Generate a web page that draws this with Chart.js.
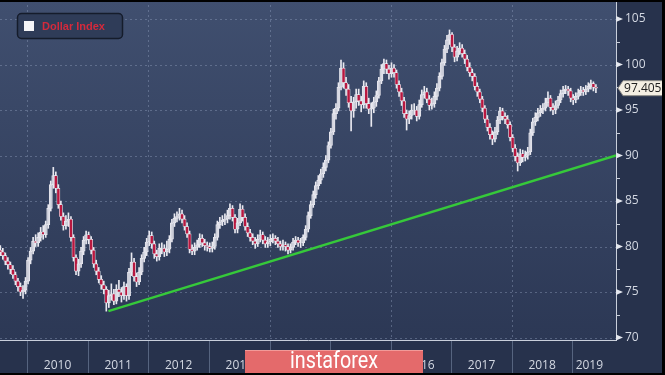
<!DOCTYPE html>
<html>
<head>
<meta charset="utf-8">
<script src="https://cdn.jsdelivr.net/npm/chart.js@4.4.1/dist/chart.umd.min.js"></script>
<style>
html, body { margin: 0; padding: 0; background: #000; }
#wrap { width: 665px; height: 375px; }
</style>
</head>
<body>
<div id="wrap"><canvas id="dxy" width="665" height="375"></canvas></div>
<script>
// dollar index bars, one every half month starting mid 2009
const firstBar = 2009.555;
const barsPerYear = 24;
const firstOpen = 79.6;
const closes = [
  79.4,79.0,78.4,78.0,77.5,76.9,76.2,75.6,75.0,75.2,
  76.2,78.5,79.5,80.6,80.4,81.0,81.6,81.3,82.4,84.2,
  86.8,87.8,86.4,84.6,83.3,82.3,82.8,83.0,81.0,78.8,
  77.3,78.1,79.5,80.7,81.3,80.8,79.6,78.1,77.3,76.4,
  75.8,75.3,73.8,74.6,74.8,74.0,75.3,75.0,74.6,75.6,
  74.6,77.2,78.3,76.7,76.1,77.2,78.7,79.4,80.5,81.2,
  80.3,79.2,78.9,79.8,79.8,79.4,79.7,80.8,82.6,83.1,
  83.3,83.6,83.0,82.2,81.4,79.7,79.5,79.9,80.2,80.9,
  80.4,80.1,80.0,79.8,80.0,81.0,82.4,82.7,82.9,83.0,
  83.4,84.2,83.2,81.9,82.6,84.1,83.2,82.2,81.5,81.0,
  80.6,80.3,80.8,81.3,80.7,80.3,80.5,80.8,80.9,80.6,
  80.3,80.0,80.2,80.0,79.6,79.9,80.5,80.7,80.4,80.4,
  81.0,81.9,83.4,84.6,85.7,86.7,87.3,88.0,88.7,89.5,
  91.1,92.6,94.6,95.2,97.5,99.6,98.0,97.3,95.8,94.9,
  95.9,96.7,96.0,95.6,97.6,95.7,95.1,95.2,95.9,96.6,
  98.2,99.5,100.1,99.5,99.0,99.6,99.1,97.8,97.0,96.0,
  94.6,94.0,94.4,95.0,95.0,94.3,95.6,96.7,97.0,96.2,
  95.5,95.7,96.5,97.4,98.7,100.2,101.7,102.7,103.3,101.9,
  100.8,101.5,101.8,101.2,100.6,99.7,99.1,98.7,97.6,97.0,
  96.2,95.2,94.0,93.1,92.3,91.8,92.6,93.9,94.9,94.3,
  94.0,93.4,92.0,90.8,89.9,89.2,90.2,89.8,90.0,90.4,
  92.5,93.7,94.2,94.7,95.0,95.2,95.8,96.3,95.3,95.0,
  95.5,96.1,96.8,97.2,97.3,97.1,96.3,96.1,96.5,96.9,
  97.2,97.0,97.3,97.6,97.9,97.5,97.4
];
const highs = [
  80.1,79.8,79.3,78.8,78.3,77.9,77.2,76.5,76.0,75.7,
  76.6,78.8,79.9,81.0,81.3,81.5,82.1,82.3,82.8,84.6,
  87.2,88.7,88.2,86.8,85.0,83.7,83.4,83.7,83.3,81.3,
  79.1,78.6,79.9,81.1,81.7,81.6,81.1,79.9,78.5,77.7,
  76.8,76.2,75.6,75.2,75.9,75.3,75.8,76.3,75.5,76.1,
  75.9,77.6,79.3,78.7,77.1,77.7,79.1,79.9,80.9,81.7,
  81.6,80.6,79.6,80.3,80.4,80.2,80.6,81.2,83.0,83.6,
  83.8,84.2,84.0,83.4,82.6,81.7,80.2,80.4,80.7,81.4,
  81.3,80.8,80.5,80.4,80.5,81.4,82.8,83.2,83.4,83.6,
  84.0,84.7,84.5,83.5,83.1,84.7,84.5,83.6,82.6,81.9,
  81.4,81.0,81.3,81.8,81.6,81.1,81.0,81.3,81.4,81.2,
  81.0,80.6,80.7,80.5,80.3,80.3,80.9,81.1,81.0,80.9,
  81.3,82.3,83.8,85.0,86.1,87.1,87.8,88.5,89.2,90.0,
  91.5,93.0,95.1,95.7,98.0,100.5,100.2,98.6,97.8,96.5,
  96.4,97.3,97.3,96.5,98.2,98.0,96.3,95.8,96.4,97.1,
  98.6,100.0,100.6,100.5,99.9,100.2,100.0,99.4,98.2,97.4,
  96.4,95.0,94.9,95.6,95.7,95.4,96.1,97.2,97.6,97.4,
  96.6,96.3,97.0,97.9,99.1,100.6,102.1,103.2,103.8,103.5,
  102.2,102.0,102.4,102.2,101.6,101.0,100.2,99.5,99.0,98.0,
  97.3,96.5,95.5,94.4,93.5,92.7,93.1,94.3,95.3,95.2,
  94.7,94.4,93.7,92.3,91.2,90.3,90.7,90.6,90.5,90.9,
  92.9,94.1,94.7,95.2,95.5,95.7,96.3,97.0,96.6,95.7,
  96.0,96.5,97.2,97.6,97.7,97.6,97.4,96.7,96.9,97.3,
  97.6,97.5,97.7,98.0,98.3,98.1,97.8
];
const lows = [
  79.0,78.6,78.0,77.5,77.0,76.5,75.8,75.1,74.6,74.3,
  74.8,75.9,78.1,79.2,80.0,80.0,80.6,80.8,81.0,82.0,
  83.9,86.4,85.9,84.2,82.9,81.8,81.9,82.2,80.6,78.4,
  76.9,76.8,77.7,79.1,80.3,80.3,79.2,77.7,76.9,76.0,
  75.3,74.8,72.9,73.3,74.1,73.6,73.7,74.5,73.9,74.2,
  74.0,74.2,76.8,76.2,75.6,75.8,76.9,78.3,79.0,80.1,
  79.8,78.7,78.4,78.5,79.2,78.9,79.0,79.3,80.5,82.2,
  82.7,82.9,82.6,81.8,81.0,79.3,79.1,79.1,79.6,79.9,
  80.0,79.6,79.5,79.4,79.4,79.7,80.7,82.0,82.3,82.4,
  82.6,83.0,82.8,81.5,81.5,82.3,82.8,81.8,81.1,80.6,
  80.2,79.8,80.0,80.5,80.3,79.9,79.9,80.1,80.4,80.2,
  79.9,79.6,79.6,79.5,79.2,79.3,79.6,80.2,80.0,79.9,
  80.1,80.7,81.6,83.1,84.3,85.3,86.3,86.9,87.6,88.3,
  89.2,90.8,92.3,94.0,94.9,97.2,97.4,96.6,95.3,92.7,
  94.2,95.2,95.5,94.8,95.2,95.2,94.6,93.2,94.7,95.4,
  96.3,97.9,99.0,99.0,98.4,98.6,98.6,97.4,96.5,95.5,
  94.2,92.8,93.5,94.0,94.5,93.8,94.0,95.3,96.3,95.8,
  95.0,95.1,95.3,96.1,97.1,98.4,99.9,101.3,102.2,101.4,
  100.3,100.4,101.1,100.8,100.1,99.3,98.7,98.2,97.2,96.5,
  95.8,94.8,93.6,92.7,91.8,91.2,91.5,92.3,93.5,93.9,
  93.5,93.0,91.6,90.4,89.4,88.3,88.9,89.3,89.4,89.6,
  90.1,92.2,93.3,93.8,94.3,94.6,94.9,95.4,94.9,94.5,
  94.6,95.2,95.8,96.4,96.8,96.6,95.9,95.6,95.8,96.2,
  96.6,96.6,96.7,97.0,97.3,97.1,96.9
];

const yTicks = [70, 75, 80, 85, 90, 95, 100, 105];
const years = [2010, 2011, 2012, 2013, 2014, 2015, 2016, 2017, 2018, 2019];
const gridYears = [2010, 2012, 2014, 2016, 2018];
const trendX = [2011.34, 2019.72];
const trendY = [72.9, 90.0];
const lastPrice = '97.405';
const seriesName = 'Dollar Index';
const watermark = 'instaforex';

const xMin = 2009.55, xMax = 2019.72;
const yMin = 69.73, yMax = 107.09;

const upColor = 'rgba(190,192,205,0.35)';
const downColor = '#b8173f';
const edgeColor = '#e9e9f0';
const textColor = '#d3d8e2';

// build candle parts from the arrays
let barX = closes.map((c, i) => firstBar + i / barsPerYear);
let opens = closes.map((c, i) => i == 0 ? firstOpen : closes[i - 1]);
let wickData = closes.map((c, i) => ({x: barX[i], y: [lows[i], highs[i]]}));
let bodyData = closes.map((c, i) => ({x: barX[i], y: [opens[i], c]}));
let bodyColors = closes.map((c, i) => c >= opens[i] ? upColor : downColor);
let trendData = trendX.map((x, i) => ({x: x, y: trendY[i]}));

function hline(ctx, x1, x2, y) {
  ctx.beginPath(); ctx.moveTo(x1, y); ctx.lineTo(x2, y); ctx.stroke();
}
function vline(ctx, x, y1, y2) {
  ctx.beginPath(); ctx.moveTo(x, y1); ctx.lineTo(x, y2); ctx.stroke();
}

const deco = {
  id: 'deco',
  beforeDraw(chart) {
    const ctx = chart.ctx, a = chart.chartArea;
    const xs = chart.scales.x, ys = chart.scales.y;
    ctx.save();
    ctx.fillStyle = '#27324c';
    ctx.fillRect(0, 0, chart.width, chart.height);
    let g = ctx.createLinearGradient(0, a.top, 0, a.bottom);
    g.addColorStop(0, '#404f6f');
    g.addColorStop(1, '#2c3855');
    ctx.fillStyle = g;
    ctx.fillRect(a.left, a.top, a.right - a.left, a.bottom - a.top);

    // dotted grid
    ctx.strokeStyle = 'rgba(150,165,195,0.4)';
    ctx.lineWidth = 1;
    ctx.setLineDash([2, 3]);
    yTicks.forEach(v => {
      let y = Math.round(ys.getPixelForValue(v)) + 0.5;
      hline(ctx, a.left, a.right, y);
    });
    gridYears.forEach(yr => {
      let x = Math.round(xs.getPixelForValue(yr)) + 0.5;
      vline(ctx, x, a.top, a.bottom);
    });
    ctx.setLineDash([]);
    ctx.restore();
  },
  afterDraw(chart) {
    const ctx = chart.ctx, a = chart.chartArea;
    const xs = chart.scales.x, ys = chart.scales.y;
    ctx.save();

    // axis lines
    ctx.strokeStyle = '#c9cfdb';
    ctx.lineWidth = 1;
    vline(ctx, a.right + 0.5, a.top, a.bottom + 1);
    hline(ctx, a.left, a.right + 1, a.bottom + 0.5);

    // major tick arrows and minor ticks
    ctx.fillStyle = '#e4e7ee';
    yTicks.forEach(v => {
      let y = ys.getPixelForValue(v);
      ctx.beginPath();
      ctx.moveTo(a.right, y - 3);
      ctx.lineTo(a.right + 7, y);
      ctx.lineTo(a.right, y + 3);
      ctx.closePath();
      ctx.fill();
      let ym = Math.round(ys.getPixelForValue(v + 2.5)) + 0.5;
      if (v + 2.5 < yMax) hline(ctx, a.right, a.right + 4, ym);
    });

    // year separators in the bottom strip
    ctx.strokeStyle = '#56647f';
    years.forEach(yr => {
      let x = Math.round(xs.getPixelForValue(yr)) + 0.5;
      vline(ctx, x, a.bottom + 1, chart.height);
    });

    // legend box
    ctx.fillStyle = '#2f3c58';
    ctx.strokeStyle = '#151c2b';
    ctx.lineWidth = 1.5;
    ctx.beginPath();
    ctx.roundRect(17.5, 13.5, 105, 25, 4);
    ctx.fill();
    ctx.stroke();
    ctx.fillStyle = '#f4f4f6';
    ctx.fillRect(24, 21, 10, 10);
    ctx.fillStyle = '#d42a3c';
    ctx.font = 'bold 11px "Liberation Sans", Arial, sans-serif';
    ctx.textBaseline = 'middle';
    ctx.textAlign = 'left';
    ctx.fillText(seriesName, 42, 27);

    // last price tag
    let py = ys.getPixelForValue(closes[closes.length - 1]);
    ctx.fillStyle = '#f4efe3';
    ctx.strokeStyle = '#8c8a86';
    ctx.lineWidth = 1;
    ctx.beginPath();
    ctx.moveTo(a.right + 2, py);
    ctx.lineTo(a.right + 7, py - 7.5);
    ctx.lineTo(chart.width - 2.5, py - 7.5);
    ctx.lineTo(chart.width - 2.5, py + 7.5);
    ctx.lineTo(a.right + 7, py + 7.5);
    ctx.closePath();
    ctx.fill();
    ctx.stroke();
    ctx.fillStyle = '#202020';
    ctx.font = '12px "Open Sans", sans-serif';
    ctx.textAlign = 'center';
    ctx.fillText(lastPrice, (a.right + 7 + chart.width - 2.5) / 2, py + 0.5);

    // watermark
    ctx.fillStyle = '#e46a6b';
    ctx.fillRect(245, 350, 178, 25);
    ctx.fillStyle = '#f29a98';
    ctx.fillRect(245, 350, 178, 1);
    ctx.fillStyle = '#ffffff';
    ctx.font = '23px Roboto, sans-serif';
    let w = ctx.measureText(watermark).width;
    ctx.save();
    ctx.translate(334, 362);
    ctx.scale(88 / w, 1);
    ctx.fillText(watermark, 0, 0);
    ctx.restore();

    // frame
    ctx.fillStyle = '#000';
    ctx.fillRect(0, 0, chart.width, 2);
    ctx.fillRect(chart.width - 3, 0, 3, chart.height);
    ctx.fillRect(0, chart.height - 2, chart.width, 2);
    ctx.restore();
  }
};

new Chart(document.getElementById('dxy'), {
  type: 'bar',
  data: {
    datasets: [
      {
        label: 'wicks',
        data: wickData,
        backgroundColor: edgeColor,
        barThickness: 1,
        grouped: false,
        order: 3
      },
      {
        label: seriesName,
        data: bodyData,
        backgroundColor: bodyColors,
        borderColor: edgeColor,
        borderWidth: 0.7,
        borderSkipped: false,
        barThickness: 3.2,
        grouped: false,
        order: 2
      },
      {
        type: 'line',
        label: 'trend',
        data: trendData,
        borderColor: '#36c93a',
        borderWidth: 2.5,
        pointRadius: 0,
        tension: 0,
        order: 1
      }
    ]
  },
  options: {
    responsive: false,
    animation: false,
    layout: {padding: 0},
    plugins: {
      legend: {display: false},
      tooltip: {enabled: false}
    },
    scales: {
      x: {
        type: 'linear',
        min: xMin,
        max: xMax,
        offset: false,
        grid: {display: false, drawTicks: false},
        border: {display: false},
        afterBuildTicks: scale => {
          scale.ticks = years.map(yr => ({
            value: yr == years[years.length - 1] ? (yr + xMax) / 2 - 0.08 : yr + 0.5
          }));
        },
        afterFit: scale => {
          scale.height = 35;
          scale.paddingLeft = 0;
          scale.paddingRight = 0;
        },
        ticks: {
          autoSkip: false,
          maxRotation: 0,
          padding: 18,
          color: textColor,
          font: {family: '"Open Sans", sans-serif', size: 12},
          callback: (v, i) => years[i]
        }
      },
      y: {
        position: 'right',
        min: yMin,
        max: yMax,
        grid: {display: false, drawTicks: false},
        border: {display: false},
        afterBuildTicks: scale => {
          scale.ticks = yTicks.map(v => ({value: v}));
        },
        afterFit: scale => {
          scale.width = 49;
          scale.paddingTop = 0;
          scale.paddingBottom = 0;
        },
        ticks: {
          padding: 9,
          color: textColor,
          font: {family: '"Open Sans", sans-serif', size: 12},
          callback: v => v
        }
      }
    }
  },
  plugins: [deco]
});
</script>
</body>
</html>
